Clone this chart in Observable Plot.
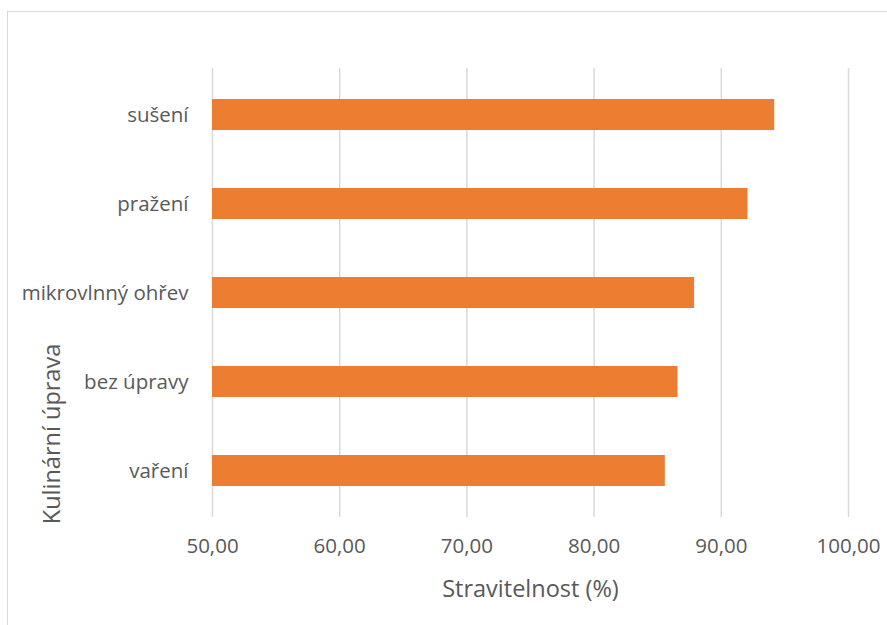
<!DOCTYPE html>
<html>
<head>
<meta charset="utf-8">
<script src="https://cdn.jsdelivr.net/npm/d3@7"></script>
<script src="https://cdn.jsdelivr.net/npm/@observablehq/plot@0.6"></script>
<style>
  html, body { margin: 0; padding: 0; background: #fff; overflow: hidden; width: 887px; height: 625px; }
  #wrap { position: relative; width: 887px; height: 625px; }
  #frame { position: absolute; left: 7px; top: 11px; width: 900px; height: 700px; border: 1px solid #d9d9d9; box-sizing: border-box; }
  #chart { position: absolute; left: 0; top: 0; }
</style>
</head>
<body>
<div id="wrap"><div id="frame"></div><div id="chart"></div></div>
<script>
const categories = ["sušení", "pražení", "mikrovlnný ohřev", "bez úpravy", "vaření"];
const values = [94.2, 92.1, 87.9, 86.6, 85.6];
const xTicks = [50, 60, 70, 80, 90, 100];
const xTitle = "Stravitelnost (%)";
const yTitle = "Kulinární úprava";

const data = categories.map((c, i) => ({category: c, value: values[i]}));
const fmt = d => d.toFixed(2).replace(".", ",");
const font = "'Open Sans', Lato, sans-serif";
const textColor = "#595959";

const chart = Plot.plot({
  width: 887,
  height: 625,
  marginLeft: 212,
  marginRight: 39,
  marginTop: 68,
  marginBottom: 108,
  style: {fontFamily: font, fontSize: "20.5px", color: textColor, background: "transparent"},
  x: {domain: [50, 100], ticks: xTicks},
  y: {domain: categories, paddingInner: 0.648, paddingOuter: 0.324},
  marks: [
    Plot.gridX(xTicks, {stroke: "#d9d9d9", strokeOpacity: 1, strokeWidth: 1.5}),
    Plot.barX(data, {x1: 50, x2: "value", y: "category", fill: "#ED7D31"}),
    Plot.axisX({ticks: xTicks, tickFormat: fmt, tickSize: 0, tickPadding: 21, label: null, fill: textColor, fontSize: 20.5}),
    Plot.axisY({tickSize: 0, tickPadding: 24, label: null, fill: textColor, fontSize: 20.5}),
    Plot.text([xTitle], {frameAnchor: "bottom", dy: 72, lineAnchor: "middle", fill: textColor, fontSize: 23.5}),
    Plot.text([yTitle], {frameAnchor: "left", rotate: -90, dx: -160, dy: 141, lineAnchor: "middle", textAnchor: "middle", fill: textColor, fontSize: 23.5})
  ]
});
document.getElementById("chart").appendChild(chart);
</script>
</body>
</html>
